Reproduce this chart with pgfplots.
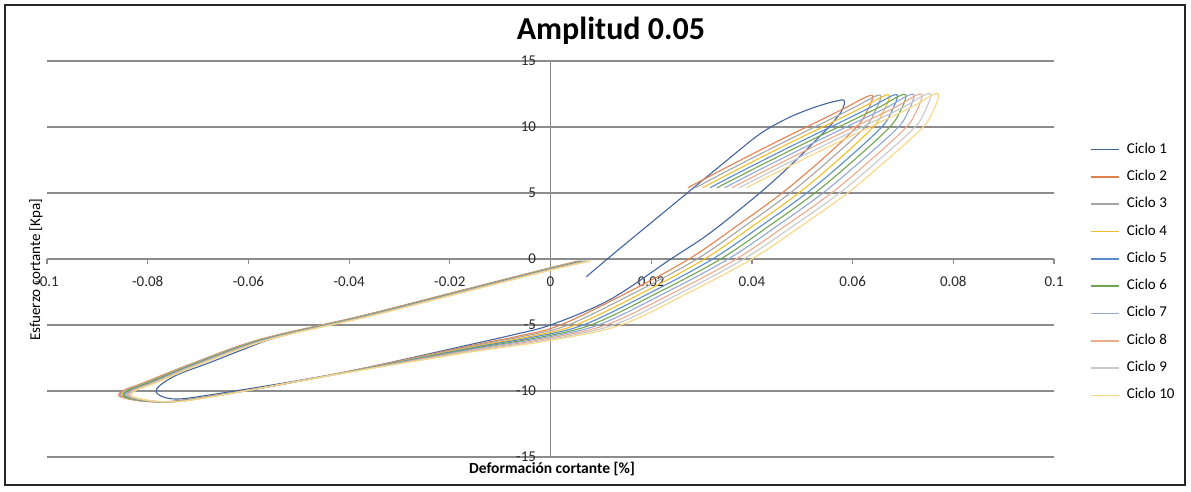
\documentclass[border=0pt]{standalone}
\usepackage{pgfplots}
\pgfplotsset{compat=1.18}
\usepackage{fontspec}
\setmainfont{Carlito}

\definecolor{axisgray}{RGB}{140,140,140}
\definecolor{labgray}{RGB}{40,40,40}
\definecolor{cA}{RGB}{68,100,160}
\definecolor{cB}{RGB}{228,128,78}
\definecolor{cC}{RGB}{165,165,165}
\definecolor{cD}{RGB}{245,190,40}
\definecolor{cE}{RGB}{88,140,200}
\definecolor{cF}{RGB}{112,165,80}
\definecolor{cG}{RGB}{145,168,210}
\definecolor{cH}{RGB}{236,170,140}
\definecolor{cI}{RGB}{200,200,200}
\definecolor{cJ}{RGB}{248,214,130}

\begin{document}
\begin{tikzpicture}[x=1pt,y=1pt]
\useasboundingbox (-47,-34) rectangle (1144,457);
\draw[line width=1.6pt, black!85] (-42,-28) rectangle (1138,452);
\begin{axis}[
  at={(0,0)}, anchor=south west,
  scale only axis, width=1007pt, height=396pt,
  xmin=-0.1, xmax=0.1, ymin=-15, ymax=15,
  axis lines=middle,
  hide obscured x ticks=false, hide obscured y ticks=false,
  axis line style={-, draw=axisgray, line width=1.2pt},
  ymajorgrids, major grid style={draw=axisgray, line width=1.2pt},
  tick style={draw=axisgray, line width=1.2pt},
  major tick length=5pt, tick align=outside,
  xtick={-0.1,-0.08,-0.06,-0.04,-0.02,0,0.02,0.04,0.06,0.08,0.1},
  xticklabels={-0.1,-0.08,-0.06,-0.04,-0.02,0,0.02,0.04,0.06,0.08,0.1},
  ytick={-15,-10,-5,0,5,10,15},
  yticklabels={-15,-10,-5,0,5,10,15},
  ticklabel style={font=\fontsize{15}{18}\selectfont, text=labgray},
  xticklabel style={yshift=-9pt},
  yticklabel style={xshift=-6pt},
  title={Amplitud 0.05},
  title style={at={(axis description cs:0.56,1.055)}, anchor=base, yshift=-6pt,
    font=\bfseries\fontsize{32}{38}\selectfont},
  xlabel={Deformación cortante [\%]},
  every axis x label/.style={at={(axis description cs:0.5015,-0.0303)}, anchor=center,
    font=\bfseries\fontsize{15.5}{18}\selectfont},
  ylabel={Esfuerzo cortante [Kpa]},
  every axis y label/.style={at={(axis description cs:-0.0109,0.472)}, rotate=90, anchor=center,
    font=\fontsize{15}{18}\selectfont},
  legend cell align=left,
  legend image code/.code={\draw[#1, line width=1.6pt] (0pt,0pt) -- (28pt,0pt);},
  legend style={at={(axis description cs:1.0357,0.793)}, anchor=north west,
    draw=none, fill=none, inner sep=0pt, row sep=14.3pt, column sep=7pt,
    font=\fontsize{15}{18}\selectfont,
    nodes={inner sep=0pt, text height=10pt, text depth=3pt}},
  every axis plot/.append style={line width=1.1pt, smooth, tension=0.55},
]
% Ciclo 1: first loading from near the origin, then the full loop
\addplot[color=cA] coordinates {
(0.0071,-1.35) (0.0130,0.55) (0.0200,2.75) (0.0270,4.95) (0.0340,7.15) (0.0415,9.45)
(0.0470,10.65) (0.0514,11.35) (0.0550,11.80) (0.0572,12.00) (0.0581,12.05) (0.0584,11.85)
(0.0578,11.20) (0.0560,10.30) (0.0548,9.80) (0.0481,7.25) (0.0415,4.98) (0.0316,1.95)
(0.0236,-0.08) (0.0117,-3.10) (0.0000,-5.00) (-0.0075,-5.75) (-0.0150,-6.40) (-0.0380,-8.35)
(-0.0500,-9.20) (-0.0578,-9.70) (-0.0677,-10.30) (-0.0735,-10.60) (-0.0765,-10.50)
(-0.0783,-10.10) (-0.0775,-9.55) (-0.0740,-8.75) (-0.0677,-7.85) (-0.0610,-6.85)
(-0.0540,-5.90) (-0.0380,-4.40) (-0.0200,-2.65) (-0.0020,-0.90) (0.0050,-0.25)
};
\addlegendentry{Ciclo 1}
% Ciclo 2
\addplot[color=cB] coordinates {
(0.0273,5.40) (0.0350,6.95) (0.0450,8.90) (0.0530,10.40) (0.0588,11.50) (0.0620,12.15)
(0.0636,12.40) (0.0640,12.22) (0.0630,11.30) (0.0608,10.00) (0.0538,7.50) (0.0460,5.00)
(0.0370,2.50) (0.0275,0.00) (0.0155,-2.50) (0.0020,-5.00) (-0.0065,-5.85) (-0.0150,-6.50)
(-0.0380,-8.35) (-0.0500,-9.25) (-0.0578,-9.80) (-0.0677,-10.40) (-0.0757,-10.80)
(-0.0815,-10.75) (-0.0856,-10.40) (-0.0848,-9.95) (-0.0810,-9.40) (-0.0711,-7.90)
(-0.0578,-6.10) (-0.0380,-4.35) (-0.0200,-2.60) (-0.0020,-0.85) (0.0055,-0.15)
};
\addlegendentry{Ciclo 2}
% Ciclo 3
\addplot[color=cC] coordinates {
(0.0288,5.40) (0.0365,6.95) (0.0466,8.90) (0.0546,10.40) (0.0604,11.50) (0.0636,12.16)
(0.0652,12.42) (0.0656,12.23) (0.0646,11.30) (0.0625,10.00) (0.0554,7.50) (0.0476,5.00)
(0.0386,2.50) (0.0291,0.00) (0.0170,-2.50) (0.0035,-5.00) (-0.0058,-5.89) (-0.0150,-6.56)
(-0.0380,-8.36) (-0.0500,-9.25) (-0.0578,-9.80) (-0.0676,-10.40) (-0.0755,-10.80)
(-0.0812,-10.75) (-0.0853,-10.40) (-0.0845,-9.95) (-0.0807,-9.40) (-0.0709,-7.90)
(-0.0576,-6.10) (-0.0378,-4.35) (-0.0198,-2.60) (-0.0018,-0.85) (0.0058,-0.15)
};
\addlegendentry{Ciclo 3}
% Ciclo 4
\addplot[color=cD] coordinates {
(0.0302,5.40) (0.0380,6.95) (0.0481,8.90) (0.0562,10.40) (0.0620,11.50) (0.0653,12.18)
(0.0669,12.44) (0.0673,12.25) (0.0663,11.30) (0.0641,10.00) (0.0571,7.50) (0.0493,5.00)
(0.0402,2.50) (0.0306,0.00) (0.0186,-2.50) (0.0050,-5.00) (-0.0050,-5.94) (-0.0150,-6.63)
(-0.0380,-8.38) (-0.0500,-9.25) (-0.0578,-9.80) (-0.0675,-10.40) (-0.0752,-10.80)
(-0.0809,-10.75) (-0.0850,-10.40) (-0.0842,-9.95) (-0.0804,-9.40) (-0.0706,-7.90)
(-0.0573,-6.10) (-0.0375,-4.35) (-0.0195,-2.60) (-0.0015,-0.85) (0.0061,-0.15)
};
\addlegendentry{Ciclo 4}
% Ciclo 5
\addplot[color=cE] coordinates {
(0.0317,5.40) (0.0395,6.95) (0.0497,8.90) (0.0578,10.40) (0.0636,11.50) (0.0669,12.19)
(0.0685,12.46) (0.0689,12.26) (0.0679,11.30) (0.0658,10.00) (0.0587,7.50) (0.0509,5.00)
(0.0418,2.50) (0.0322,0.00) (0.0201,-2.50) (0.0065,-5.00) (-0.0043,-5.98) (-0.0150,-6.69)
(-0.0380,-8.39) (-0.0500,-9.25) (-0.0578,-9.80) (-0.0673,-10.40) (-0.0750,-10.80)
(-0.0806,-10.75) (-0.0847,-10.40) (-0.0839,-9.95) (-0.0801,-9.40) (-0.0704,-7.90)
(-0.0571,-6.10) (-0.0373,-4.35) (-0.0193,-2.60) (-0.0013,-0.85) (0.0064,-0.15)
};
\addlegendentry{Ciclo 5}
% Ciclo 6
\addplot[color=cF] coordinates {
(0.0331,5.40) (0.0410,6.95) (0.0512,8.90) (0.0594,10.40) (0.0653,11.50) (0.0685,12.20)
(0.0702,12.48) (0.0706,12.27) (0.0696,11.30) (0.0674,10.00) (0.0603,7.50) (0.0525,5.00)
(0.0434,2.50) (0.0338,0.00) (0.0216,-2.50) (0.0080,-5.00) (-0.0035,-6.03) (-0.0150,-6.75)
(-0.0380,-8.40) (-0.0500,-9.25) (-0.0578,-9.80) (-0.0672,-10.40) (-0.0747,-10.80)
(-0.0803,-10.75) (-0.0844,-10.40) (-0.0836,-9.95) (-0.0798,-9.40) (-0.0701,-7.90)
(-0.0568,-6.10) (-0.0370,-4.35) (-0.0190,-2.60) (-0.0010,-0.85) (0.0068,-0.15)
};
\addlegendentry{Ciclo 6}
% Ciclo 7
\addplot[color=cG] coordinates {
(0.0346,5.40) (0.0425,6.95) (0.0528,8.90) (0.0609,10.40) (0.0669,11.50) (0.0701,12.21)
(0.0718,12.49) (0.0722,12.28) (0.0712,11.30) (0.0691,10.00) (0.0619,7.50) (0.0541,5.00)
(0.0450,2.50) (0.0353,0.00) (0.0231,-2.50) (0.0095,-5.00) (-0.0028,-6.07) (-0.0150,-6.81)
(-0.0380,-8.41) (-0.0500,-9.25) (-0.0578,-9.80) (-0.0671,-10.40) (-0.0745,-10.80)
(-0.0799,-10.75) (-0.0840,-10.40) (-0.0832,-9.95) (-0.0794,-9.40) (-0.0699,-7.90)
(-0.0566,-6.10) (-0.0368,-4.35) (-0.0188,-2.60) (-0.0008,-0.85) (0.0071,-0.15)
};
\addlegendentry{Ciclo 7}
% Ciclo 8
\addplot[color=cH] coordinates {
(0.0360,5.40) (0.0440,6.95) (0.0543,8.90) (0.0625,10.40) (0.0685,11.50) (0.0718,12.23)
(0.0734,12.51) (0.0738,12.30) (0.0728,11.30) (0.0707,10.00) (0.0636,7.50) (0.0558,5.00)
(0.0466,2.50) (0.0369,0.00) (0.0247,-2.50) (0.0110,-5.00) (-0.0020,-6.11) (-0.0150,-6.88)
(-0.0380,-8.43) (-0.0500,-9.25) (-0.0578,-9.80) (-0.0670,-10.40) (-0.0742,-10.80)
(-0.0796,-10.75) (-0.0837,-10.40) (-0.0829,-9.95) (-0.0791,-9.40) (-0.0696,-7.90)
(-0.0563,-6.10) (-0.0365,-4.35) (-0.0185,-2.60) (-0.0005,-0.85) (0.0074,-0.15)
};
\addlegendentry{Ciclo 8}
% Ciclo 9
\addplot[color=cI] coordinates {
(0.0375,5.40) (0.0455,6.95) (0.0559,8.90) (0.0641,10.40) (0.0701,11.50) (0.0734,12.24)
(0.0751,12.53) (0.0755,12.31) (0.0745,11.30) (0.0724,10.00) (0.0652,7.50) (0.0574,5.00)
(0.0482,2.50) (0.0384,0.00) (0.0262,-2.50) (0.0125,-5.00) (-0.0013,-6.16) (-0.0150,-6.94)
(-0.0380,-8.44) (-0.0500,-9.25) (-0.0578,-9.80) (-0.0668,-10.40) (-0.0740,-10.80)
(-0.0793,-10.75) (-0.0834,-10.40) (-0.0826,-9.95) (-0.0788,-9.40) (-0.0694,-7.90)
(-0.0561,-6.10) (-0.0363,-4.35) (-0.0183,-2.60) (-0.0003,-0.85) (0.0077,-0.15)
};
\addlegendentry{Ciclo 9}
% Ciclo 10
\addplot[color=cJ] coordinates {
(0.0389,5.40) (0.0470,6.95) (0.0574,8.90) (0.0657,10.40) (0.0717,11.50) (0.0750,12.25)
(0.0767,12.55) (0.0771,12.32) (0.0761,11.30) (0.0740,10.00) (0.0668,7.50) (0.0590,5.00)
(0.0498,2.50) (0.0400,0.00) (0.0277,-2.50) (0.0140,-5.00) (-0.0005,-6.20) (-0.0150,-7.00)
(-0.0380,-8.45) (-0.0500,-9.25) (-0.0578,-9.80) (-0.0667,-10.40) (-0.0737,-10.80)
(-0.0790,-10.75) (-0.0831,-10.40) (-0.0823,-9.95) (-0.0785,-9.40) (-0.0691,-7.90)
(-0.0558,-6.10) (-0.0360,-4.35) (-0.0180,-2.60) (0.0000,-0.85) (0.0080,-0.15)
};
\addlegendentry{Ciclo 10}
\end{axis}
\end{tikzpicture}
\end{document}
